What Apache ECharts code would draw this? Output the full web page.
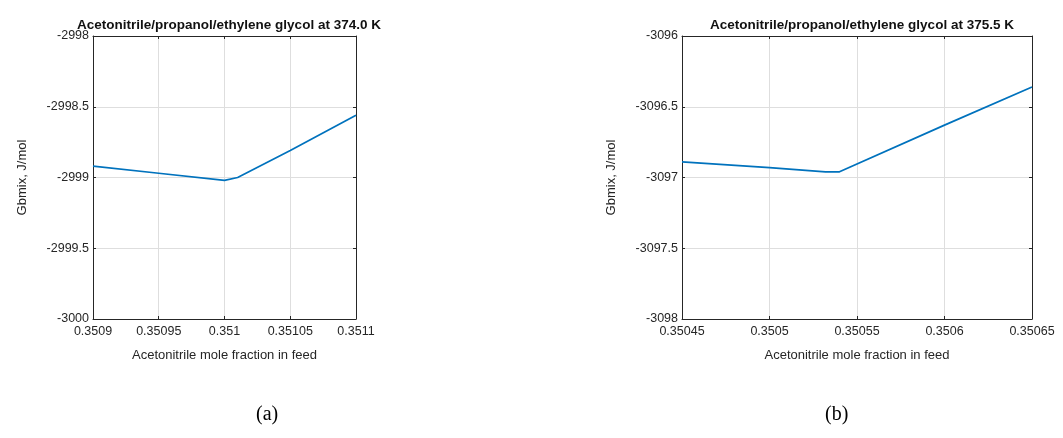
<!DOCTYPE html>
<html>
<head>
<meta charset="utf-8">
<script src="https://cdn.jsdelivr.net/npm/echarts@6/dist/echarts.min.js"></script>
<style>
html,body{margin:0;padding:0;background:#fff;}
#c{width:1063px;height:438px;}
</style>
</head>
<body>
<div id="c"></div>
<script>
// ---- data ----
const titleA = 'Acetonitrile/propanol/ethylene glycol at 374.0 K';
const titleB = 'Acetonitrile/propanol/ethylene glycol at 375.5 K';
const xNameText = 'Acetonitrile mole fraction in feed';
const yNameText = 'Gbmix, J/mol';
const panelLabels = ['(a)', '(b)'];

const xA = [0.3509, 0.35095, 0.351, 0.35101, 0.35105, 0.3511];
const yA = [-2998.92, -2998.97, -2999.02, -2999.00, -2998.81, -2998.56];
const xTicksA = ['0.3509', '0.35095', '0.351', '0.35105', '0.3511'];
const yTicksA = ['-3000', '-2999.5', '-2999', '-2998.5', '-2998'];

const xB = [0.35045, 0.3505, 0.350532, 0.35054, 0.3506, 0.35065];
const yB = [-3096.89, -3096.93, -3096.96, -3096.96, -3096.63, -3096.36];
const xTicksB = ['0.35045', '0.3505', '0.35055', '0.3506', '0.35065'];
const yTicksB = ['-3098', '-3097.5', '-3097', '-3096.5', '-3096'];

// ---- chart ----
const chart = echarts.init(document.getElementById('c'));
const axisCol = '#262626';
const font = 'Liberation Sans, Arial, sans-serif';

function nearestLabel(list, v) {
  let best = list[0], bd = Infinity;
  list.forEach(s => { const d = Math.abs(parseFloat(s) - v); if (d < bd) { bd = d; best = s; } });
  return best;
}
function xAxisDef(gi, ticks, pos, labels) {
  const mn = parseFloat(ticks[0]), mx = parseFloat(ticks[ticks.length - 1]);
  return {
    type: 'value', gridIndex: gi, position: pos, min: mn, max: mx,
    interval: (mx - mn) / (ticks.length - 1),
    name: labels ? xNameText : '', nameLocation: 'middle', nameGap: 30,
    nameTextStyle: { color: axisCol, fontSize: 13, fontFamily: font },
    axisLine: { show: true, onZero: false, lineStyle: { color: axisCol, width: 1 } },
    axisTick: { show: true, inside: true, length: 3, lineStyle: { color: axisCol } },
    axisLabel: { show: labels, color: axisCol, fontSize: 12.5, fontFamily: font, margin: 6,
      formatter: v => nearestLabel(ticks, v) },
    splitLine: { show: labels, lineStyle: { color: '#dedede', width: 1 } }
  };
}
function yAxisDef(gi, ticks, pos, labels) {
  const mn = parseFloat(ticks[0]), mx = parseFloat(ticks[ticks.length - 1]);
  return {
    type: 'value', gridIndex: gi, position: pos, min: mn, max: mx,
    interval: (mx - mn) / (ticks.length - 1),
    name: labels ? yNameText : '', nameLocation: 'middle', nameGap: 64, nameRotate: 90,
    nameTextStyle: { color: axisCol, fontSize: 13, fontFamily: font },
    axisLine: { show: true, onZero: false, lineStyle: { color: axisCol, width: 1 } },
    axisTick: { show: true, inside: true, length: 3, lineStyle: { color: axisCol } },
    axisLabel: { show: labels, color: axisCol, fontSize: 12.5, fontFamily: font, margin: 4,
      formatter: v => nearestLabel(ticks, v) },
    splitLine: { show: labels, lineStyle: { color: '#dedede', width: 1 } }
  };
}

const option = {
  backgroundColor: '#fff',
  animation: false,
  title: [
    { text: titleA, left: 224, top: 13, textAlign: 'center',
      textStyle: { fontSize: 13.5, fontWeight: 'bold', color: '#111', fontFamily: font } },
    { text: titleB, left: 857, top: 13, textAlign: 'center',
      textStyle: { fontSize: 13.5, fontWeight: 'bold', color: '#111', fontFamily: font } }
  ],
  grid: [
    { left: 93, right: 1063 - 356, top: 36, bottom: 438 - 319 },
    { left: 682, right: 1063 - 1032, top: 36, bottom: 438 - 319 }
  ],
  xAxis: [
    xAxisDef(0, xTicksA, 'bottom', true),
    xAxisDef(0, xTicksA, 'top', false),
    xAxisDef(1, xTicksB, 'bottom', true),
    xAxisDef(1, xTicksB, 'top', false)
  ],
  yAxis: [
    yAxisDef(0, yTicksA, 'left', true),
    yAxisDef(0, yTicksA, 'right', false),
    yAxisDef(1, yTicksB, 'left', true),
    yAxisDef(1, yTicksB, 'right', false)
  ],
  series: [
    { type: 'line', xAxisIndex: 0, yAxisIndex: 0, data: xA.map((x, i) => [x, yA[i]]),
      showSymbol: false, lineStyle: { color: '#0072BD', width: 1.7 }, z: 5 },
    { type: 'line', xAxisIndex: 2, yAxisIndex: 2, data: xB.map((x, i) => [x, yB[i]]),
      showSymbol: false, lineStyle: { color: '#0072BD', width: 1.7 }, z: 5 }
  ],
  graphic: [
    { type: 'text', left: 256, top: 405,
      style: { text: panelLabels[0], font: '20px "Liberation Serif", "Times New Roman", serif', fill: '#000' } },
    { type: 'text', left: 825, top: 405,
      style: { text: panelLabels[1], font: '20px "Liberation Serif", "Times New Roman", serif', fill: '#000' } }
  ]
};
chart.setOption(option);
</script>
</body>
</html>
